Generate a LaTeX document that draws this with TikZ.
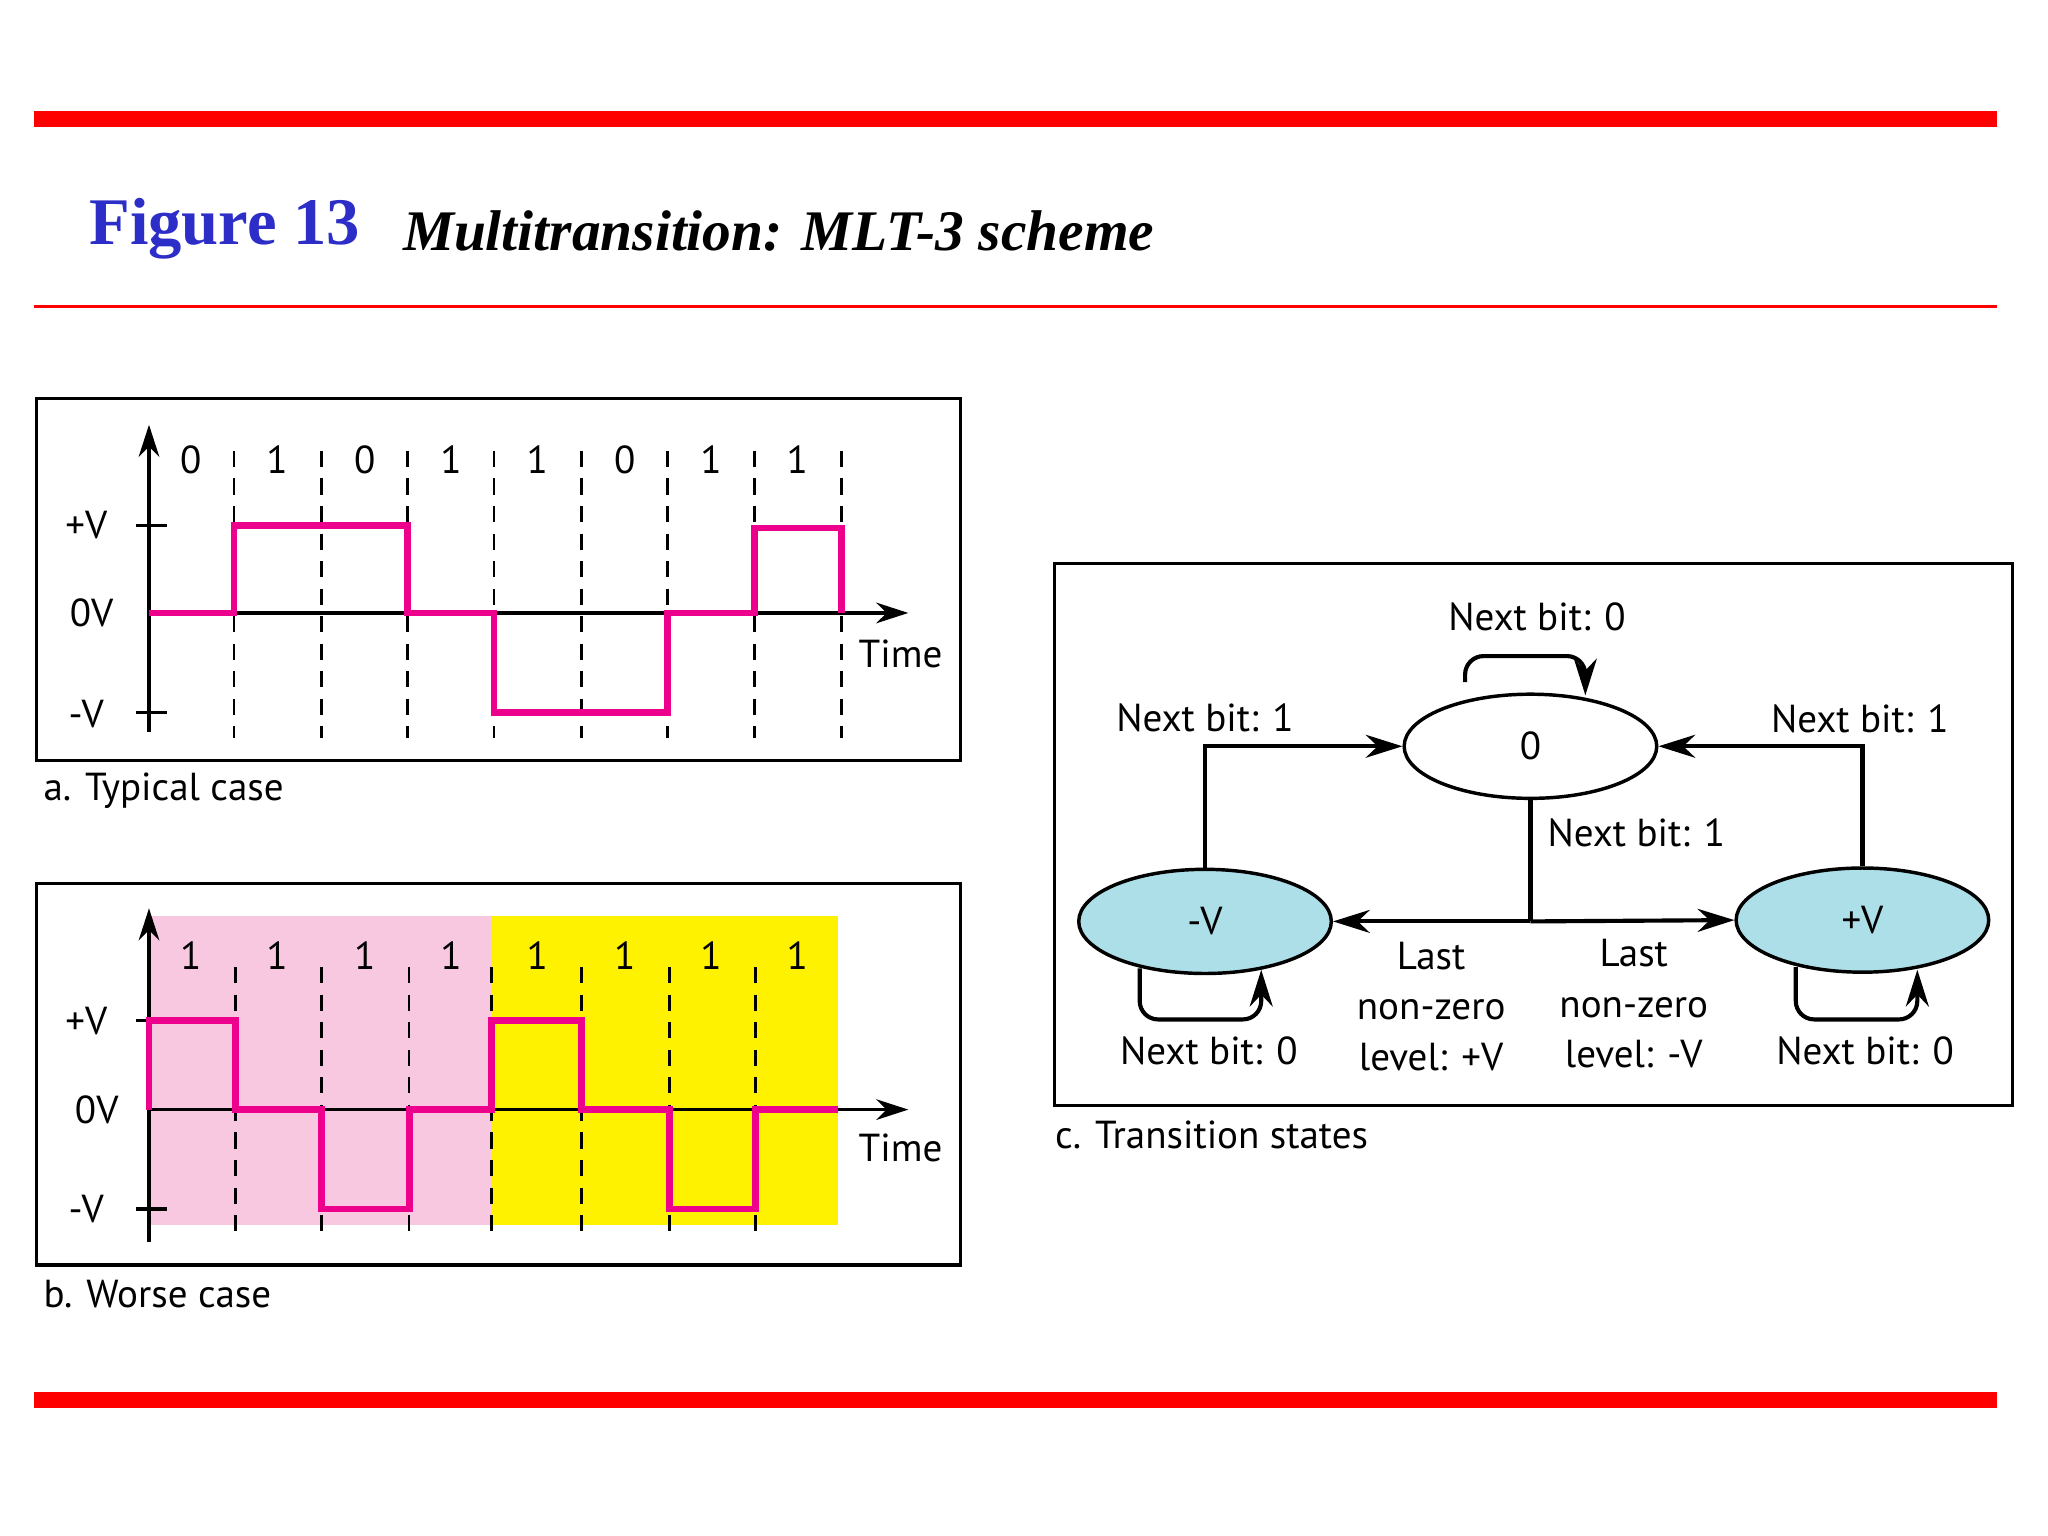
\documentclass[tikz,border=0pt]{standalone}
\usepackage{fontspec}
\setmainfont{Liberation Serif}
\newfontfamily\lab{PT Sans}
\usetikzlibrary{arrows.meta,shapes.geometric}
\definecolor{sig}{RGB}{236,0,140}
\definecolor{lblue}{RGB}{173,223,233}
\definecolor{tblue}{RGB}{45,45,200}
\definecolor{lpink}{RGB}{248,200,225}
\tikzset{
 t/.style={font=\lab\fontsize{17}{20}\selectfont, inner sep=0pt},
 dl/.style={dash pattern=on 7pt off 5pt, line width=1.2pt},
 ax/.style={line width=1.4pt, -{Stealth[length=14pt,width=9pt]}},
 sg/.style={sig, line width=3pt},
 con/.style={line width=1.8pt, -{Stealth[length=16pt,width=10pt]}},
 st/.style={ellipse, draw, line width=1.5pt, minimum width=194pt*0.567, minimum height=80pt*0.567, font=\lab\fontsize{17}{20}\selectfont}
}
\begin{document}
\begin{tikzpicture}[x=0.02cm,y=-0.02cm]
\useasboundingbox (0,0) rectangle (1567,1175);
\fill[white] (0,0) rectangle (1567,1175);
% red rules
\fill[red] (26,85) rectangle (1528,97);
\fill[red] (26,233) rectangle (1528,236);
\fill[red] (26,1065) rectangle (1528,1077);
\node[anchor=west, inner sep=0pt, text=tblue, font=\fontsize{29}{32}\selectfont\bfseries] (fig) at (68,175) {Figure 13};
\node[anchor=west, inner sep=0pt, font=\fontsize{25}{28}\selectfont\bfseries\itshape] (ttl) at (308,177) {Multitransition: MLT-3 scheme};

% Panel a
\draw[line width=1.5pt] (28,305) rectangle (735,582);
\foreach \x in {179,246,312,378,445,511,577,644} \draw[dl] (\x,345) -- (\x,565);
\draw[ax] (114,560) -- (114,325);
\draw[ax] (114,469) -- (695,469);
\draw[line width=1.4pt] (104,402) -- (128,402) (104,545) -- (128,545);
\foreach \x/\b in {146/0,212/1,279/0,345/1,411/1,478/0,544/1,610/1} \node[t] at (\x,352) {\b};
\draw[sg] (114,469) -- (179,469) -- (179,402) -- (312,402) -- (312,469) -- (378,469) -- (378,545) -- (511,545) -- (511,469) -- (577,469) -- (577,404) -- (644,404) -- (644,469);
\node[t] at (66,402) {+V};
\node[t] at (70,469) {0V};
\node[t] at (66,546) {-V};
\node[t] at (689,500) {Time};
\node[t, anchor=west] at (33,605) {a. Typical case};

% Panel b
\fill[lpink] (114,701) rectangle (376,937);
\fill[yellow] (376,701) rectangle (641,937);
\draw[line width=1.5pt] (28,676) rectangle (735,968);
\foreach \x in {180,246,313,376,445,512,578} \draw[dl] (\x,740) -- (\x,950);
\draw[ax] (114,950) -- (114,695);
\draw[ax] (114,849) -- (695,849);
\draw[line width=1.4pt] (104,781) -- (128,781) (104,925) -- (128,925);
\foreach \x in {146,212,279,345,411,478,544,610} \node[t] at (\x,731) {1};
\draw[sg] (114,849) -- (114,781) -- (180,781) -- (180,849) -- (246,849) -- (246,925) -- (313,925) -- (313,849) -- (376,849) -- (376,781) -- (445,781) -- (445,849) -- (512,849) -- (512,925) -- (578,925) -- (578,849) -- (641,849);
\node[t] at (66,781) {+V};
\node[t] at (74,849) {0V};
\node[t] at (66,925) {-V};
\node[t] at (689,878) {Time};
\node[t, anchor=west] at (33,990) {b. Worse case};

% Panel c
\draw[line width=1.5pt] (807,431) rectangle (1540,846);
\node[st, fill=white] (z) at (1171,571) {0};
\node[st, fill=lblue] (m) at (922,705) {-V};
\node[st, fill=lblue] (p) at (1425,704) {+V};
\coordinate (j) at (1171,705);
\draw[con] (m.north) |- (z.west);
\draw[con] (p.north) |- (z.east);
\draw[line width=1.8pt] (z.south) -- (j);
\draw[con] (j) -- (m.east);
\draw[con] (j) -- (p.west);
\draw[con, rounded corners=8pt] (1121,522) -- (1121,502) -- (1213,502) -- (1213,532);
\draw[con, rounded corners=8pt] (872,741) -- (872,780) -- (965,780) -- (965,742);
\draw[con, rounded corners=8pt] (1374,740) -- (1374,780) -- (1467,780) -- (1467,742);
\node[t] at (1176,472) {Next bit: 0};
\node[t] at (922,549) {Next bit: 1};
\node[t] at (1423,550) {Next bit: 1};
\node[t] at (1252,637) {Next bit: 1};
\node[t] at (925,804) {Next bit: 0};
\node[t] at (1427,804) {Next bit: 0};
\node[t, align=center] at (1095,770) {Last\\[2pt]non-zero\\[2pt]level: +V};
\node[t, align=center] at (1250,768) {Last\\[2pt]non-zero\\[2pt]level: -V};
\node[t, anchor=west] at (807,868) {c. Transition states};
\end{tikzpicture}
\end{document}
